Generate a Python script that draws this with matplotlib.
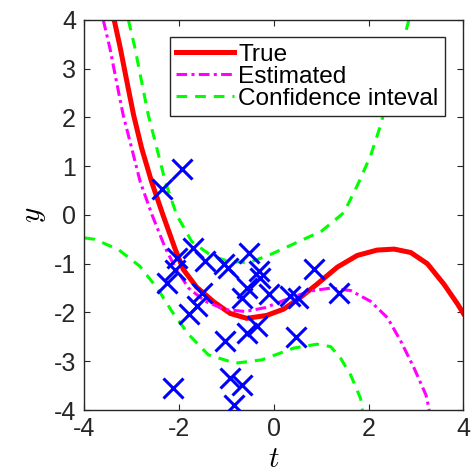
import numpy as np
import matplotlib
matplotlib.use("Agg")
import matplotlib.pyplot as plt

plt.rcParams['font.family'] = 'Liberation Sans'
plt.rcParams['mathtext.fontset'] = 'cm'
plt.rcParams['axes.unicode_minus'] = False

# samples (t, y)
samp_t = [-1.94, -2.37, -1.70, -2.05, -1.45, -1.06, -0.96, -0.53, -2.08, -2.26,
          -0.32, -0.29, -0.11, -0.57, -0.67, -1.52, -1.63, -1.80, -0.36, -0.57,
          -1.03, -2.12, -0.92, -0.67, -0.84, 0.84, 0.35, 0.51, 1.37, 0.46]
samp_y = [0.94, 0.53, -0.67, -0.88, -0.95, -1.01, -1.08, -0.78, -1.12, -1.39,
          -1.15, -1.29, -1.63, -1.50, -1.70, -1.60, -1.87, -2.04, -2.28, -2.42,
          -2.59, -3.55, -3.35, -3.48, -3.90, -1.10, -1.67, -1.71, -1.60, -2.50]

# true function
true_t = [-3.37, -3.24, -3.10, -2.96, -2.79, -2.58, -2.34, -2.09, -1.91, -1.63,
          -1.27, -0.92, -0.57, -0.15, 0.21, 0.56, 0.91, 1.34, 1.76, 2.18,
          2.54, 2.89, 3.24, 3.59, 3.88, 4.0]
true_y = [4.0, 3.42, 2.73, 2.05, 1.37, 0.68, 0.0, -0.68, -1.12, -1.48,
          -1.78, -2.02, -2.12, -2.06, -1.93, -1.69, -1.42, -1.07, -0.83, -0.72,
          -0.70, -0.77, -1.00, -1.42, -1.83, -2.02]

# estimated function
est_t = [-3.60, -3.46, -3.32, -3.18, -3.00, -2.82, -2.57, -2.29, -2.08, -1.80,
         -1.45, -1.03, -0.60, -0.18, 0.35, 0.77, 1.20, 1.62, 2.04, 2.40,
         2.68, 2.96, 3.21, 3.28]
est_y = [4.0, 3.42, 2.73, 2.05, 1.37, 0.68, 0.0, -0.68, -1.08, -1.50,
         -1.77, -1.94, -1.98, -1.90, -1.70, -1.56, -1.50, -1.55, -1.77, -2.11,
         -2.59, -3.14, -3.69, -4.0]

# confidence interval (upper / lower)
up_t = [-3.07, -2.93, -2.79, -2.65, -2.47, -2.29, -2.05, -1.73, -1.31, -0.96,
        -0.53, -0.07, 0.45, 1.01, 1.48, 1.76, 2.04, 2.25, 2.50, 2.70, 2.85]
up_y = [4.0, 3.42, 2.73, 2.05, 1.37, 0.68, 0.0, -0.55, -0.84, -0.95,
        -0.98, -0.81, -0.58, -0.33, 0.05, 0.60, 1.21, 1.83, 2.75, 3.45, 4.0]
lo_t = [-4.0, -3.78, -3.28, -2.83, -2.44, -2.15, -1.80, -1.38, -0.81, -0.25,
        0.42, 0.91, 1.20, 1.41, 1.62, 1.83, 1.87]
lo_y = [-0.47, -0.50, -0.71, -1.05, -1.53, -1.98, -2.45, -2.87, -3.04, -2.97,
        -2.73, -2.65, -2.70, -2.94, -3.28, -3.76, -4.0]

fig = plt.figure(figsize=(4.75, 4.74), dpi=100)
ax = fig.add_axes([0.1775, 0.135, 0.798, 0.823])

ax.plot(true_t, true_y, color=(1, 0, 0), lw=3.6, label='True')
ax.plot(est_t, est_y, color=(1, 0, 1), lw=2.2, dashes=(3.5, 1.4, 1.0, 1.4),
        label='Estimated')
ax.plot(up_t, up_y, color=(0, 1, 0), lw=2.2, dashes=(3.5, 2.6),
        label='Confidence inteval')
ax.plot(lo_t, lo_y, color=(0, 1, 0), lw=2.2, dashes=(3.5, 2.6))
ax.plot(samp_t, samp_y, 'x', color=(0, 0, 1), ms=14, mew=2.2, zorder=5)

ax.set_xlim(-4, 4)
ax.set_ylim(-4, 4)
ax.set_xticks([-4, -2, 0, 2, 4])
ax.set_yticks(np.arange(-4, 5))
ax.tick_params(direction='in', length=4, width=0.8, top=True, right=True,
               labelsize=18, colors='0.15')
ax.tick_params(axis='x', pad=5)
ax.tick_params(axis='y', pad=6)
for s in ax.spines.values():
    s.set_color('0.15')
    s.set_linewidth(1.0)
ax.set_xlabel('$t$', fontsize=21, labelpad=3)
ax.set_ylabel('$y$', fontsize=21, labelpad=4)

leg = ax.legend(loc='upper right', bbox_to_anchor=(0.951, 0.955), fontsize=17.6,
                frameon=True, fancybox=False, framealpha=1, edgecolor='0.15',
                borderaxespad=0, handlelength=2.35, handletextpad=0.2,
                labelspacing=0.0, borderpad=0.25)
leg.get_frame().set_linewidth(1.0)

fig.savefig('out.png', dpi=100)
